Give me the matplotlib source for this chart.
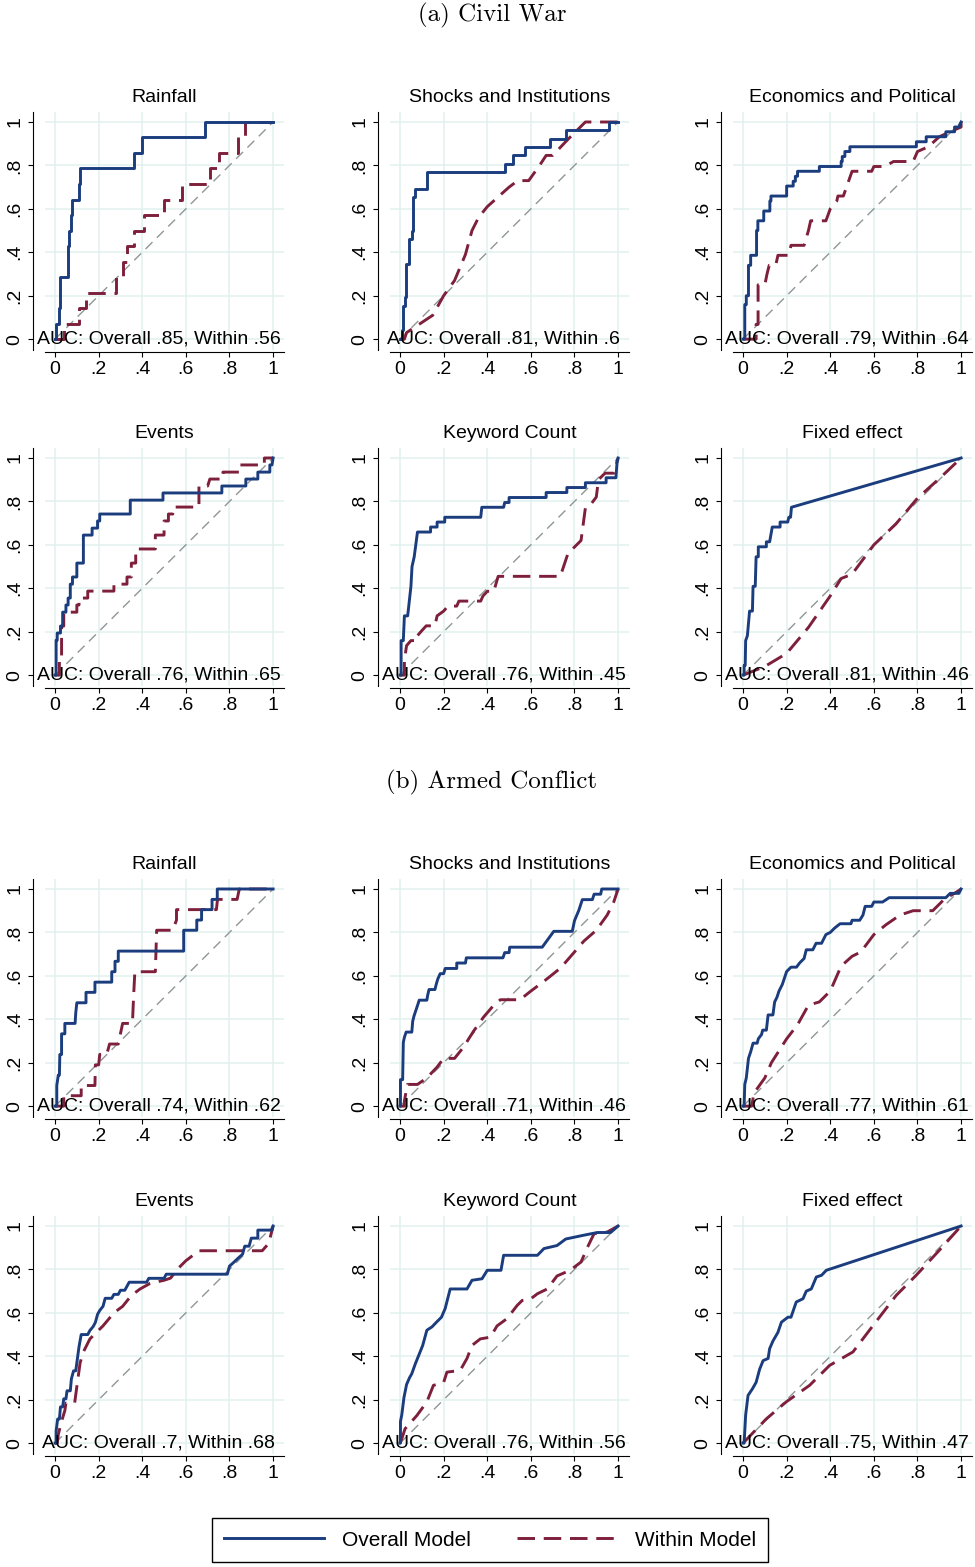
import matplotlib
matplotlib.use('Agg')
import matplotlib.pyplot as plt
from matplotlib.lines import Line2D

plt.rcParams['font.family'] = ['Liberation Sans', 'DejaVu Sans']

# panel titles
titles = ['Rainfall', 'Shocks and Institutions', 'Economics and Political',
          'Events', 'Keyword Count', 'Fixed effect']

# AUC labels (Stata style)
cw_auc_overall = ['.85', '.81', '.79', '.76', '.76', '.81']
cw_auc_within = ['.56', '.6', '.64', '.65', '.45', '.46']
ac_auc_overall = ['.74', '.71', '.77', '.7', '.76', '.75']
ac_auc_within = ['.62', '.46', '.61', '.68', '.56', '.47']

# ROC curves as (false positive rate, true positive rate)
# ---- (a) Civil War ----
cw_rain_overall = [(0, 0), (0.005, 0), (0.005, 0.071), (0.02, 0.071), (0.02, 0.143), (0.025, 0.143),
                   (0.025, 0.286), (0.058, 0.286), (0.058, 0.429), (0.065, 0.429), (0.065, 0.5),
                   (0.072, 0.5), (0.072, 0.571), (0.08, 0.571), (0.08, 0.643), (0.108, 0.643),
                   (0.108, 0.714), (0.115, 0.714), (0.115, 0.786), (0.36, 0.786), (0.36, 0.857),
                   (0.4, 0.857), (0.4, 0.929), (0.69, 0.929), (0.69, 1), (1, 1)]
cw_rain_within = [(0, 0), (0.04, 0), (0.04, 0.071), (0.11, 0.071), (0.11, 0.143), (0.14, 0.143),
                  (0.14, 0.214), (0.28, 0.214), (0.28, 0.286), (0.31, 0.286), (0.31, 0.357),
                  (0.33, 0.357), (0.33, 0.429), (0.36, 0.429), (0.36, 0.5), (0.41, 0.5), (0.41, 0.571),
                  (0.5, 0.571), (0.5, 0.643), (0.58, 0.643), (0.58, 0.714), (0.71, 0.714), (0.71, 0.786),
                  (0.75, 0.786), (0.75, 0.857), (0.84, 0.857), (0.84, 0.929), (0.87, 0.929), (0.87, 1), (1, 1)]

cw_shock_overall = [(0, 0), (0.01, 0), (0.01, 0.04), (0.015, 0.04), (0.015, 0.154), (0.025, 0.154),
                    (0.025, 0.192), (0.028, 0.192), (0.028, 0.346), (0.04, 0.346), (0.04, 0.462),
                    (0.055, 0.462), (0.055, 0.5), (0.058, 0.5), (0.058, 0.615), (0.06, 0.615),
                    (0.06, 0.654), (0.07, 0.654), (0.07, 0.692), (0.123, 0.692), (0.123, 0.769),
                    (0.48, 0.769), (0.48, 0.808), (0.52, 0.808), (0.52, 0.846), (0.575, 0.846),
                    (0.575, 0.885), (0.69, 0.885), (0.69, 0.923), (0.76, 0.923), (0.76, 0.962),
                    (0.96, 0.962), (0.96, 1), (1, 1)]
cw_shock_within = [(0, 0), (0.02, 0), (0.03, 0.03), (0.15, 0.11), (0.2, 0.2), (0.25, 0.27), (0.3, 0.39),
                   (0.33, 0.5), (0.36, 0.56), (0.4, 0.61), (0.5, 0.7), (0.54, 0.73), (0.59, 0.73),
                   (0.64, 0.8), (0.67, 0.846), (0.7, 0.846), (0.77, 0.92), (0.81, 0.96), (0.85, 1), (1, 1)]

cw_econ_overall = [(0, 0), (0.008, 0), (0.008, 0.159), (0.015, 0.159), (0.015, 0.2), (0.025, 0.2),
                   (0.025, 0.34), (0.035, 0.34), (0.035, 0.386), (0.062, 0.386), (0.062, 0.5),
                   (0.068, 0.5), (0.068, 0.545), (0.095, 0.545), (0.095, 0.59), (0.123, 0.59),
                   (0.123, 0.636), (0.128, 0.636), (0.128, 0.659), (0.2, 0.659), (0.2, 0.705),
                   (0.23, 0.705), (0.23, 0.727), (0.24, 0.727), (0.24, 0.75), (0.25, 0.75),
                   (0.25, 0.773), (0.35, 0.773), (0.35, 0.795), (0.45, 0.795), (0.45, 0.818),
                   (0.455, 0.818), (0.455, 0.841), (0.467, 0.841), (0.467, 0.864), (0.49, 0.864),
                   (0.49, 0.886), (0.795, 0.886), (0.795, 0.909), (0.84, 0.909), (0.84, 0.932),
                   (0.93, 0.932), (0.93, 0.955), (0.97, 0.955), (0.97, 0.977), (0.99, 0.977), (1, 1)]
cw_econ_within = [(0, 0), (0.06, 0), (0.06, 0.068), (0.069, 0.068), (0.069, 0.25), (0.1, 0.25),
                  (0.11, 0.3), (0.12, 0.34), (0.15, 0.34), (0.16, 0.386), (0.21, 0.386), (0.22, 0.432),
                  (0.28, 0.432), (0.3, 0.5), (0.31, 0.545), (0.38, 0.545), (0.4, 0.6), (0.43, 0.636),
                  (0.435, 0.659), (0.46, 0.659), (0.5, 0.773), (0.59, 0.773), (0.6, 0.795), (0.65, 0.795),
                  (0.69, 0.818), (0.78, 0.818), (0.8, 0.864), (0.85, 0.886), (0.9, 0.932), (0.95, 0.955),
                  (1, 0.977), (1, 1)]

cw_event_overall = [(0, 0), (0.005, 0), (0.005, 0.161), (0.01, 0.161), (0.01, 0.194), (0.025, 0.194),
                    (0.025, 0.226), (0.035, 0.226), (0.035, 0.29), (0.05, 0.29), (0.05, 0.323),
                    (0.06, 0.323), (0.06, 0.355), (0.07, 0.355), (0.07, 0.419), (0.08, 0.419),
                    (0.08, 0.452), (0.1, 0.452), (0.1, 0.516), (0.13, 0.516), (0.13, 0.645),
                    (0.17, 0.645), (0.17, 0.677), (0.195, 0.677), (0.195, 0.71), (0.205, 0.71),
                    (0.205, 0.742), (0.345, 0.742), (0.345, 0.806), (0.495, 0.806), (0.495, 0.839),
                    (0.765, 0.839), (0.765, 0.871), (0.875, 0.871), (0.875, 0.903), (0.93, 0.903),
                    (0.93, 0.935), (0.985, 0.935), (0.985, 0.968), (0.995, 0.968), (1, 1)]
cw_event_within = [(0, 0), (0.02, 0), (0.02, 0.065), (0.03, 0.065), (0.03, 0.226), (0.04, 0.226),
                   (0.04, 0.29), (0.1, 0.29), (0.1, 0.323), (0.11, 0.323), (0.11, 0.355), (0.15, 0.355),
                   (0.15, 0.387), (0.27, 0.387), (0.27, 0.419), (0.33, 0.419), (0.33, 0.452),
                   (0.35, 0.452), (0.35, 0.516), (0.37, 0.516), (0.37, 0.581), (0.46, 0.581),
                   (0.46, 0.645), (0.5, 0.645), (0.5, 0.71), (0.52, 0.71), (0.52, 0.742), (0.54, 0.742),
                   (0.54, 0.774), (0.66, 0.774), (0.66, 0.871), (0.7, 0.871), (0.71, 0.903), (0.77, 0.903),
                   (0.77, 0.935), (0.85, 0.935), (0.85, 0.968), (0.96, 0.968), (0.96, 1), (1, 1)]

cw_key_overall = [(0, 0), (0.005, 0), (0.005, 0.159), (0.015, 0.159), (0.02, 0.273), (0.035, 0.273),
                  (0.04, 0.318), (0.05, 0.409), (0.055, 0.5), (0.065, 0.545), (0.08, 0.659), (0.14, 0.659),
                  (0.14, 0.682), (0.17, 0.682), (0.17, 0.705), (0.205, 0.705), (0.205, 0.727),
                  (0.37, 0.727), (0.375, 0.773), (0.475, 0.773), (0.48, 0.795), (0.5, 0.795),
                  (0.5, 0.818), (0.67, 0.818), (0.67, 0.841), (0.765, 0.841), (0.765, 0.864),
                  (0.85, 0.864), (0.85, 0.886), (0.945, 0.886), (0.945, 0.909), (0.99, 0.909),
                  (0.995, 0.977), (1, 1)]
cw_key_within = [(0, 0), (0.02, 0), (0.02, 0.068), (0.03, 0.136), (0.05, 0.159), (0.08, 0.159),
                 (0.08, 0.182), (0.1, 0.205), (0.12, 0.227), (0.16, 0.227), (0.17, 0.273), (0.2, 0.295),
                 (0.22, 0.318), (0.26, 0.318), (0.27, 0.341), (0.37, 0.341), (0.38, 0.364), (0.4, 0.386),
                 (0.43, 0.386), (0.45, 0.455), (0.735, 0.455), (0.75, 0.5), (0.77, 0.56), (0.8, 0.59),
                 (0.83, 0.62), (0.85, 0.77), (0.87, 0.78), (0.9, 0.82), (0.91, 0.9), (0.94, 0.93),
                 (0.98, 0.93), (1, 1)]

cw_fe_overall = [(0, 0), (0.005, 0), (0.005, 0.045), (0.01, 0.045), (0.012, 0.159), (0.02, 0.182),
                 (0.03, 0.295), (0.043, 0.295), (0.046, 0.409), (0.056, 0.409), (0.06, 0.545),
                 (0.07, 0.545), (0.07, 0.591), (0.107, 0.591), (0.107, 0.614), (0.122, 0.614),
                 (0.13, 0.659), (0.134, 0.682), (0.17, 0.682), (0.17, 0.705), (0.205, 0.705),
                 (0.21, 0.727), (0.218, 0.727), (0.222, 0.773), (1, 1)]
cw_fe_within = [(0, 0), (0.1, 0.04), (0.2, 0.1), (0.3, 0.22), (0.4, 0.365), (0.45, 0.445), (0.5, 0.465),
                (0.6, 0.6), (0.7, 0.695), (0.8, 0.815), (0.9, 0.905), (1, 1)]

# ---- (b) Armed Conflict ----
ac_rain_overall = [(0, 0), (0.008, 0), (0.008, 0.095), (0.015, 0.143), (0.02, 0.143), (0.022, 0.238),
                   (0.03, 0.238), (0.03, 0.333), (0.045, 0.333), (0.045, 0.381), (0.092, 0.381),
                   (0.095, 0.429), (0.1, 0.476), (0.142, 0.476), (0.142, 0.524), (0.183, 0.524),
                   (0.183, 0.571), (0.26, 0.571), (0.26, 0.619), (0.275, 0.619), (0.275, 0.667),
                   (0.29, 0.667), (0.29, 0.714), (0.59, 0.714), (0.59, 0.81), (0.65, 0.81), (0.65, 0.857),
                   (0.672, 0.857), (0.672, 0.905), (0.72, 0.905), (0.72, 0.952), (0.744, 0.952),
                   (0.744, 1), (1, 1)]
ac_rain_within = [(0, 0), (0.04, 0), (0.04, 0.048), (0.12, 0.048), (0.12, 0.095), (0.183, 0.095),
                  (0.185, 0.19), (0.2, 0.19), (0.205, 0.238), (0.237, 0.238), (0.25, 0.286), (0.29, 0.286),
                  (0.31, 0.381), (0.355, 0.381), (0.36, 0.5), (0.366, 0.619), (0.46, 0.619), (0.466, 0.81),
                  (0.54, 0.81), (0.557, 0.857), (0.557, 0.905), (0.74, 0.905), (0.745, 0.952),
                  (0.835, 0.952), (0.845, 1), (1, 1)]

ac_shock_overall = [(0, 0), (0.002, 0), (0.002, 0.122), (0.012, 0.122), (0.015, 0.293), (0.02, 0.317),
                    (0.028, 0.341), (0.054, 0.341), (0.058, 0.39), (0.064, 0.415), (0.072, 0.439),
                    (0.08, 0.463), (0.088, 0.488), (0.123, 0.488), (0.127, 0.512), (0.133, 0.537),
                    (0.16, 0.537), (0.166, 0.561), (0.173, 0.585), (0.184, 0.61), (0.2, 0.61),
                    (0.207, 0.634), (0.26, 0.634), (0.26, 0.659), (0.3, 0.659), (0.304, 0.683),
                    (0.472, 0.683), (0.48, 0.707), (0.5, 0.707), (0.503, 0.732), (0.652, 0.732),
                    (0.705, 0.805), (0.79, 0.805), (0.8, 0.854), (0.81, 0.878), (0.82, 0.902),
                    (0.836, 0.951), (0.882, 0.951), (0.89, 0.976), (0.92, 0.976), (0.925, 1), (1, 1)]
ac_shock_within = [(0, 0), (0.02, 0), (0.02, 0.024), (0.034, 0.1), (0.08, 0.1), (0.123, 0.13),
                   (0.17, 0.18), (0.2, 0.22), (0.25, 0.22), (0.29, 0.27), (0.337, 0.345), (0.383, 0.41),
                   (0.43, 0.465), (0.46, 0.49), (0.55, 0.49), (0.6, 0.53), (0.66, 0.575), (0.736, 0.636),
                   (0.8, 0.71), (0.843, 0.76), (0.9, 0.81), (0.95, 0.88), (0.98, 0.94), (1, 1)]

ac_econ_overall = [(0, 0), (0.005, 0), (0.008, 0.1), (0.015, 0.13), (0.025, 0.22), (0.035, 0.25),
                   (0.046, 0.29), (0.065, 0.29), (0.07, 0.31), (0.085, 0.33), (0.09, 0.35), (0.107, 0.35),
                   (0.115, 0.42), (0.137, 0.42), (0.145, 0.48), (0.155, 0.5), (0.165, 0.53), (0.18, 0.56),
                   (0.19, 0.59), (0.2, 0.62), (0.22, 0.64), (0.245, 0.64), (0.26, 0.66), (0.28, 0.68),
                   (0.29, 0.72), (0.32, 0.72), (0.335, 0.75), (0.36, 0.75), (0.38, 0.79), (0.4, 0.8),
                   (0.42, 0.82), (0.445, 0.84), (0.495, 0.84), (0.5, 0.856), (0.535, 0.856), (0.55, 0.88),
                   (0.56, 0.92), (0.59, 0.92), (0.6, 0.94), (0.64, 0.94), (0.67, 0.96), (0.93, 0.96),
                   (0.95, 0.98), (0.99, 0.98), (1, 1)]
ac_econ_within = [(0, 0), (0.04, 0), (0.05, 0.06), (0.1, 0.13), (0.13, 0.2), (0.2, 0.31), (0.25, 0.375),
                  (0.3, 0.465), (0.35, 0.48), (0.4, 0.53), (0.45, 0.645), (0.5, 0.69), (0.54, 0.71),
                  (0.6, 0.79), (0.655, 0.835), (0.72, 0.88), (0.78, 0.9), (0.87, 0.9), (0.925, 0.955),
                  (0.97, 0.98), (1, 1)]

ac_event_overall = [(0, 0), (0.005, 0), (0.005, 0.056), (0.012, 0.111), (0.02, 0.111), (0.025, 0.167),
                    (0.035, 0.167), (0.04, 0.204), (0.05, 0.204), (0.055, 0.241), (0.07, 0.241),
                    (0.075, 0.296), (0.085, 0.333), (0.095, 0.333), (0.11, 0.444), (0.12, 0.5),
                    (0.15, 0.5), (0.16, 0.519), (0.175, 0.537), (0.185, 0.556), (0.195, 0.593),
                    (0.205, 0.611), (0.22, 0.63), (0.23, 0.667), (0.26, 0.667), (0.27, 0.685),
                    (0.29, 0.685), (0.3, 0.704), (0.32, 0.704), (0.34, 0.741), (0.42, 0.741),
                    (0.43, 0.759), (0.5, 0.759), (0.51, 0.778), (0.79, 0.778), (0.8, 0.815),
                    (0.82, 0.833), (0.84, 0.852), (0.86, 0.87), (0.87, 0.907), (0.89, 0.907),
                    (0.9, 0.944), (0.93, 0.944), (0.93, 0.981), (0.995, 0.981), (1, 1)]
ac_event_within = [(0, 0), (0.01, 0), (0.015, 0.04), (0.03, 0.1), (0.045, 0.15), (0.05, 0.185),
                   (0.09, 0.185), (0.1, 0.26), (0.115, 0.37), (0.13, 0.42), (0.16, 0.48), (0.19, 0.51),
                   (0.22, 0.54), (0.27, 0.6), (0.31, 0.63), (0.35, 0.68), (0.39, 0.71), (0.435, 0.735),
                   (0.5, 0.75), (0.53, 0.76), (0.56, 0.8), (0.6, 0.84), (0.66, 0.886), (0.95, 0.886),
                   (0.98, 0.92), (1, 1)]

ac_key_overall = [(0, 0), (0.002, 0), (0.002, 0.1), (0.008, 0.13), (0.018, 0.21), (0.03, 0.27),
                  (0.043, 0.3), (0.054, 0.32), (0.07, 0.365), (0.084, 0.4), (0.104, 0.45), (0.123, 0.52),
                  (0.146, 0.535), (0.17, 0.56), (0.19, 0.58), (0.207, 0.62), (0.23, 0.71), (0.307, 0.71),
                  (0.33, 0.75), (0.376, 0.757), (0.4, 0.796), (0.463, 0.796), (0.475, 0.865),
                  (0.63, 0.865), (0.66, 0.896), (0.72, 0.91), (0.76, 0.94), (0.84, 0.957), (0.905, 0.97),
                  (0.966, 0.97), (1, 1)]
ac_key_within = [(0, 0), (0.008, 0.02), (0.023, 0.066), (0.077, 0.127), (0.123, 0.19), (0.153, 0.266),
                 (0.2, 0.28), (0.215, 0.327), (0.276, 0.335), (0.307, 0.39), (0.33, 0.45), (0.368, 0.48),
                 (0.414, 0.488), (0.445, 0.54), (0.49, 0.573), (0.537, 0.634), (0.56, 0.657),
                 (0.6, 0.665), (0.63, 0.688), (0.675, 0.71), (0.72, 0.77), (0.78, 0.796), (0.83, 0.834),
                 (0.86, 0.903), (0.89, 0.965), (0.95, 0.972), (1, 1)]

ac_fe_overall = [(0, 0), (0.005, 0), (0.012, 0.13), (0.023, 0.22), (0.043, 0.25), (0.06, 0.28),
                 (0.076, 0.34), (0.092, 0.38), (0.115, 0.39), (0.122, 0.435), (0.137, 0.47), (0.16, 0.51),
                 (0.176, 0.557), (0.206, 0.58), (0.22, 0.58), (0.244, 0.65), (0.275, 0.665), (0.29, 0.7),
                 (0.313, 0.71), (0.336, 0.765), (0.36, 0.773), (0.382, 0.796), (1, 1)]
ac_fe_within = [(0, 0), (0.107, 0.112), (0.198, 0.19), (0.305, 0.266), (0.397, 0.358), (0.504, 0.42),
                (0.595, 0.54), (0.702, 0.68), (0.794, 0.773), (0.9, 0.888), (1, 1)]

cw_overall = [cw_rain_overall, cw_shock_overall, cw_econ_overall, cw_event_overall, cw_key_overall, cw_fe_overall]
cw_within = [cw_rain_within, cw_shock_within, cw_econ_within, cw_event_within, cw_key_within, cw_fe_within]
ac_overall = [ac_rain_overall, ac_shock_overall, ac_econ_overall, ac_event_overall, ac_key_overall, ac_fe_overall]
ac_within = [ac_rain_within, ac_shock_within, ac_econ_within, ac_event_within, ac_key_within, ac_fe_within]

ticks = [0, 0.2, 0.4, 0.6, 0.8, 1]
tick_labels = ['0', '.2', '.4', '.6', '.8', '1']

blue = '#1b3d7e'
maroon = '#7e1f3b'
grid_col = '#e2f1ee'

W, H = 975, 1567
fig = plt.figure(figsize=(W / 100, H / 100), dpi=100)

col_left = [45, 390, 733]
row_top = [112, 448, 879, 1216]
pw, ph = 239, 238


def draw_panel(ax, title, overall, within, auc_o, auc_w):
    ax.set_xlim(-0.046, 1.05)
    ax.set_ylim(-0.05, 1.046)
    for t in ticks:
        ax.axhline(t, color=grid_col, lw=1.1, zorder=0)
        ax.axvline(t, color=grid_col, lw=1.1, zorder=0)
    ax.plot([0, 1], [0, 1], color='#8f9696', lw=1.0, ls=(0, (7, 4.5)), zorder=1)
    ax.plot([p[0] for p in within], [p[1] for p in within], color=maroon, lw=2.1,
            ls=(0, (6, 3)), zorder=2)
    ax.plot([p[0] for p in overall], [p[1] for p in overall], color=blue, lw=2.1, zorder=3)
    ax.text(0.475, -0.018, 'AUC: Overall ' + auc_o + ', Within ' + auc_w, ha='center',
            va='baseline', fontsize=14, zorder=4)
    ax.set_title(title, fontsize=14, pad=7)
    ax.spines['top'].set_visible(False)
    ax.spines['right'].set_visible(False)
    ax.spines['left'].set_position(('outward', 9))
    ax.spines['bottom'].set_position(('outward', 1.5))
    for s in ['left', 'bottom']:
        ax.spines[s].set_linewidth(0.8)
    ax.set_xticks(ticks)
    ax.set_xticklabels(tick_labels)
    ax.set_yticks(ticks)
    ax.set_yticklabels(tick_labels, rotation=90, va='center')
    ax.tick_params(labelsize=14, length=3.5, width=0.8, pad=3)


for r in range(4):
    for c in range(3):
        k = (r % 2) * 3 + c
        rect = [col_left[c] / W, 1 - (row_top[r] + ph) / H, pw / W, ph / H]
        ax = fig.add_axes(rect)
        if r < 2:
            draw_panel(ax, titles[k], cw_overall[k], cw_within[k], cw_auc_overall[k], cw_auc_within[k])
        else:
            draw_panel(ax, titles[k], ac_overall[k], ac_within[k], ac_auc_overall[k], ac_auc_within[k])

fig.text(492 / W, 1 - 15 / H, '(a) Civil War', fontfamily='cmr10', fontsize=18, ha='center', va='center')
fig.text(492 / W, 1 - 782 / H, '(b) Armed Conflict', fontfamily='cmr10', fontsize=18, ha='center', va='center')

handles = [Line2D([], [], color=blue, lw=2.1),
           Line2D([], [], color=maroon, lw=2.1, ls=(0, (6, 3)))]
leg = fig.legend(handles, ['Overall Model', 'Within Model'], loc='center',
                 bbox_to_anchor=(490 / W, 1 - 1540 / H), ncol=2, fontsize=15,
                 frameon=True, fancybox=False, edgecolor='black', framealpha=1,
                 handlelength=4.8, handletextpad=0.85, columnspacing=2.2, borderpad=0.6)
leg.get_frame().set_linewidth(1.0)

fig.savefig('out.png', dpi=100)
